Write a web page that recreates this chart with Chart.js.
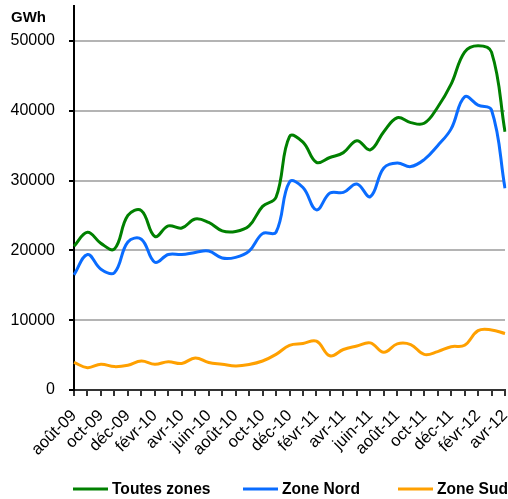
<!DOCTYPE html>
<html>
<head>
<meta charset="utf-8">
<script src="https://cdn.jsdelivr.net/npm/chart.js@4/dist/chart.umd.min.js"></script>
<style>
  html, body { margin: 0; padding: 0; background: #fff; }
  #wrap { width: 508px; height: 499px; }
</style>
</head>
<body>
<div id="wrap"><canvas id="myChart" width="508" height="499"></canvas></div>
<script>
// mois août-09 .. avr-12
const months = ["août-09","sept-09","oct-09","nov-09","déc-09","janv-10","févr-10","mars-10","avr-10","mai-10","juin-10","juil-10",
  "août-10","sept-10","oct-10","nov-10","déc-10","janv-11","févr-11","mars-11","avr-11","mai-11","juin-11","juil-11",
  "août-11","sept-11","oct-11","nov-11","déc-11","janv-12","févr-12","mars-12","avr-12"];

const toutesZones = [20600,22600,21000,20200,25000,25700,22000,23500,23200,24500,24000,22800,
  22700,23500,26300,27600,36300,35500,32600,33300,34000,35700,34400,37000,
  39000,38300,38200,40500,43800,48400,49300,48400,37000];
const zoneNord = [16500,19400,17300,16800,21200,21600,18300,19400,19400,19700,19900,18900,
  19000,19900,22400,22600,29800,29000,25800,28200,28300,29500,27700,31800,
  32500,32000,33000,35000,37400,42000,40800,40100,28900];
const zoneSud = [3950,3200,3700,3350,3550,4150,3680,4050,3800,4600,3950,3700,
  3450,3650,4150,5100,6400,6650,7000,4900,5800,6300,6750,5400,
  6600,6500,5100,5500,6200,6400,8500,8600,8100];

const yTicks = [0,10000,20000,30000,40000,50000];
const FONT = "'Liberation Sans', Arial, sans-serif";

// unité + légende en bas (positions comme dans l'original)
const extras = {
  id: "extras",
  afterDraw(chart) {
    const ctx = chart.ctx;
    ctx.save();
    ctx.fillStyle = "#000";
    ctx.font = "bold 15px " + FONT;
    ctx.textBaseline = "alphabetic";
    ctx.fillText("GWh", 11, 22);

    const xs = [73, 243, 398];
    const y = 489;
    ctx.font = "bold 15.6px " + FONT;
    ctx.textBaseline = "middle";
    chart.data.datasets.forEach((ds, i) => {
      ctx.strokeStyle = ds.borderColor;
      ctx.lineWidth = 3;
      ctx.beginPath();
      ctx.moveTo(xs[i], y);
      ctx.lineTo(xs[i] + 35, y);
      ctx.stroke();
      ctx.fillStyle = "#000";
      ctx.fillText(ds.label, xs[i] + 39, y + 1);
    });
    ctx.restore();
  }
};

function line(label, data, color) {
  return {
    label: label,
    data: data,
    borderColor: color,
    backgroundColor: color,
    borderWidth: 3,
    pointRadius: 0,
    tension: 0.4,
    fill: false
  };
}

new Chart(document.getElementById("myChart").getContext("2d"), {
  type: "line",
  data: {
    labels: months,
    datasets: [
      line("Toutes zones", toutesZones, "#008000"),
      line("Zone Nord", zoneNord, "#0a6cff"),
      line("Zone Sud", zoneSud, "#ffa000")
    ]
  },
  options: {
    responsive: false,
    animation: false,
    layout: { padding: { top: 6, right: 3, left: 0, bottom: 30 } },
    plugins: {
      tooltip: { enabled: false },
      legend: { display: false }
    },
    scales: {
      x: {
        offset: false,
        grid: { drawOnChartArea: false, tickLength: 6, tickColor: "#333", lineWidth: 2 },
        border: { color: "#333", width: 2 },
        ticks: {
          autoSkip: false,
          maxRotation: 45,
          minRotation: 45,
          padding: 10,
          color: "#000",
          font: { family: FONT, size: 16.5 },
          callback(val, idx) { return idx % 2 === 0 ? this.getLabelForValue(val) : ""; }
        },
        afterFit(scale) {
          scale.height = 79;
          scale.paddingLeft = 0;
          scale.paddingRight = 0;
        }
      },
      y: {
        min: 0,
        max: 55000,
        grid: { color: "#b4b4b4", lineWidth: 2, tickLength: 5, tickColor: "#000" },
        border: { color: "#000", width: 2 },
        ticks: {
          padding: 14,
          color: "#000",
          font: { family: FONT, size: 16 },
          callback(v) { return String(v); }
        },
        afterBuildTicks(scale) {
          scale.ticks = yTicks.map(v => ({ value: v }));
        },
        afterFit(scale) {
          scale.width = 74;
          scale.paddingTop = 0;
          scale.paddingBottom = 0;
        }
      }
    }
  },
  plugins: [extras]
});
</script>
</body>
</html>
